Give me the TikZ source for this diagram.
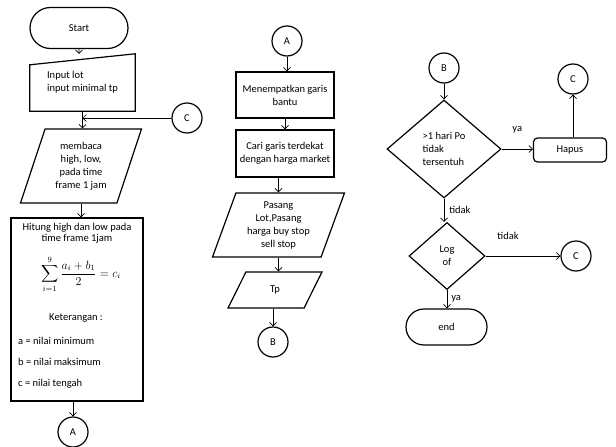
\documentclass[tikz,border=0pt]{standalone}
\usepackage{fontspec}
\setmainfont{Carlito}
\usepackage{amsmath}
\usepackage{tikz}
\usetikzlibrary{positioning,calc,arrows.meta,shapes.geometric,shapes.misc}

\begin{document}
\begin{tikzpicture}[x=1pt, y=-1pt, >={Straight Barb[length=3.5pt,width=7pt]},
				font=\fontsize{10.5}{13}\selectfont,
				every node/.append style={inner sep=0pt},
				shape line/.style={draw, line width=1.2pt},
				box/.style={shape line, rectangle, align=center},
				terminal/.style={shape line, rounded rectangle},
				io/.style={shape line, trapezium, trapezium left angle=70, trapezium right angle=110, trapezium stretches=true, align=center},
				decision/.style={shape line, diamond},
				connector/.style={shape line, circle, minimum size=30pt},
				arr/.style={->, line width=0.7pt}]
				\useasboundingbox (0,0) rectangle (616,447);
				{
					\node (start) [terminal, minimum width=98pt, minimum height=41pt] at (79,28) {Start};
					\node (input) [minimum width=105pt, minimum height=57pt, align=left] at (82.5,82.5) {Input lot\\input minimal tp};
					\draw[line width=1.2pt] (input.south west) -- (input.south east) -- (input.north east) -- ($(input.north west)+(0,11)$) -- cycle;
					\node (c1) [connector] at (187,118) {C};
					\node (membaca) [io, minimum width=122pt, minimum height=74pt] at (81,166) {membaca\\high, low,\\pada time\\frame 1 jam};
					\node (hitung) [box, minimum width=132pt, minimum height=183pt] at (77,309.5) {};
					\node (hitung txt) [align=center, font=\fontsize{10.5}{11}\selectfont] at (77,233) {Hitung high dan low pada\\time frame 1jam};
					\node (rumus) [font=\fontsize{12}{14}\selectfont] at (81,274) {$\displaystyle\sum_{i=1}^{9}\frac{a_i+b_1}{2}= c_i$};
					\node (ket) at (76,318) {Keterangan :};
					\node (ket a) [anchor=west] at (18,341) {a = nilai minimum};
					\node (ket b) [anchor=west] at (18,362) {b = nilai maksimum};
					\node (ket c) [anchor=west] at (18,384) {c = nilai tengah};
					\node (a1) [connector] at (73,432) {A};
				}
				{
					\node (a2) [connector] at (287,41) {A};
					\node (garis) [box, minimum width=98pt, minimum height=46pt] at (285,95) {Menempatkan garis\\bantu};
					\node (cari) [box, minimum width=98pt, minimum height=47pt] at (285,153.5) {Cari garis terdekat\\dengan harga market};
					\node (pasang) [io, minimum width=133pt, minimum height=64pt] at (278.5,225) {Pasang\\Lot,Pasang\\harga buy stop\\sell stop};
					\node (tp) [io, minimum width=94pt, minimum height=36pt] at (275,290) {Tp};
					\node (b1) [connector] at (273,342) {B};
				}
				{
					\node (b2) [connector] at (444,68) {B};
					\node (cek) [decision, minimum width=114pt, minimum height=98pt, align=left] at (444,149) {>1 hari Po\\tidak\\tersentuh};
					\node (hapus) [shape line, rectangle, rounded corners=4pt, minimum width=73pt, minimum height=24pt] at (570,150) {Hapus};
					\node (c2) [connector] at (573,79) {C};
					\node (log) [decision, minimum width=76pt, minimum height=67pt, align=center] at (447,256) {Log\\of};
					\node (c3) [connector] at (576,256) {C};
					\node (end) [terminal, minimum width=81pt, minimum height=36pt] at (446.5,327) {end};
				}
				\draw[arr] (start) -- (start |- input.north);
				\draw[arr] (input.south) -- (input.south |- membaca.north);
				\draw[arr] (c1) -- (c1 -| input.south);
				\draw[arr] (membaca.south) -- (membaca.south |- hitung.north);
				\draw[arr] (hitung.south -| a1) -- (a1);
				\draw[arr] (a2) -- (a2 |- garis.north);
				\draw[arr] (garis) -- (cari);
				\draw[arr] (cari.south -| pasang) -- (pasang.north);
				\draw[arr] (pasang.south) -- (pasang.south |- tp.north);
				\draw[arr] (tp.south -| b1) -- (b1);
				\draw[arr] (b2) -- (cek);
				\draw[arr] (cek.east) -- (cek.east -| hapus.west) node[midway, above=15pt] {ya};
				\draw[arr] (hapus.north -| c2) -- (c2);
				\draw[arr] (cek.south) -- (cek.south |- log.north) node[midway, right=5pt] {tidak};
				\draw[arr] (log) -- (c3) node[pos=0.3, above=16pt] {tidak};
				\draw[arr] (log.south) -- (log.south |- end.north) node[midway, right=4pt] {ya};
\end{tikzpicture}
\end{document}
